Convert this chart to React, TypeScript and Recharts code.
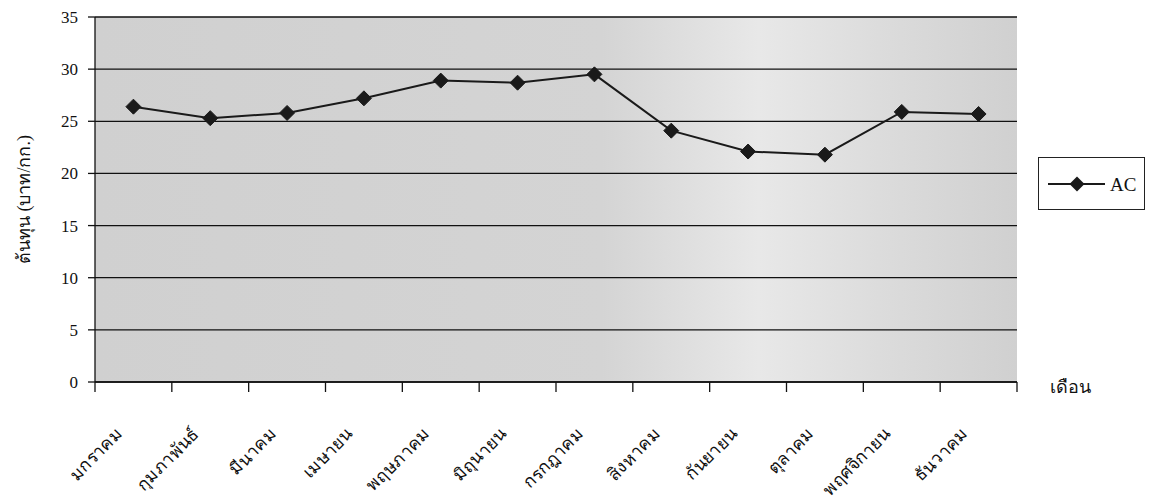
import React from 'react';
import { LineChart, Line, XAxis, YAxis, CartesianGrid, Label } from 'recharts';

const months = ['มกราคม', 'กุมภาพันธ์', 'มีนาคม', 'เมษายน', 'พฤษภาคม', 'มิถุนายน', 'กรกฎาคม', 'สิงหาคม', 'กันยายน', 'ตุลาคม', 'พฤศจิกายน', 'ธันวาคม'];
const acValues = [26.4, 25.3, 25.8, 27.2, 28.9, 28.7, 29.5, 24.1, 22.1, 21.8, 25.9, 25.7];
const yTicks = [0, 5, 10, 15, 20, 25, 30, 35];
const seriesName = 'AC';
const yTitle = 'ต้นทุน (บาท/กก.)';
const xTitle = 'เดือน';

const data = months.map((m, i) => ({ pos: i + 0.5, month: m, AC: acValues[i] }));
const boundaryTicks = months.map((_, i) => i).concat([months.length]);
const centerTicks = months.map((_, i) => i + 0.5);

const FONT = '"Liberation Serif", "Noto Sans", serif';

const Diamond = (props: any) => {
  const { cx, cy } = props;
  if (cx == null || cy == null) return null;
  const r = 7.5;
  return <polygon points={`${cx},${cy - r} ${cx + r},${cy} ${cx},${cy + r} ${cx - r},${cy}`} fill="#1a1a1a" stroke="#1a1a1a" />;
};

const MonthTick = (props: any) => {
  const { x, y, payload } = props;
  const idx = Math.floor(payload.value);
  return (
    <text x={0} y={0} transform={`translate(${x - 10}, ${y + 44}) rotate(-45)`} textAnchor="end" fontSize={17.5} fill="#111" fontFamily={FONT}>
      {months[idx]}
    </text>
  );
};

const EmptyTick = () => <g />;

export default function App() {
  return (
    <div style={{ position: 'absolute', left: 0, top: 0, width: 1153, height: 501, background: '#fff' }}>
      <LineChart width={1153} height={501} data={data} margin={{ top: 17, right: 136, bottom: 0, left: 0 }}>
        <defs>
          <linearGradient id="bgGrad" x1="0" y1="0" x2="1" y2="0">
            <stop offset="0" stopColor="#d0d0d0" />
            <stop offset="0.55" stopColor="#d4d4d4" />
            <stop offset="0.72" stopColor="#e8e8e8" />
            <stop offset="0.85" stopColor="#dcdcdc" />
            <stop offset="1" stopColor="#d0d0d0" />
          </linearGradient>
        </defs>
        <CartesianGrid vertical={false} stroke="#111" strokeWidth={1.3} fill="url(#bgGrad)" fillOpacity={1} />
        <XAxis
          xAxisId="b"
          type="number"
          dataKey="pos"
          domain={[0, months.length]}
          ticks={boundaryTicks}
          tick={<EmptyTick />}
          tickSize={10}
          height={1}
          stroke="#111"
          strokeWidth={1.3}
          interval={0}
        />
        <XAxis
          xAxisId="c"
          type="number"
          dataKey="pos"
          domain={[0, months.length]}
          ticks={centerTicks}
          tick={<MonthTick />}
          axisLine={false}
          tickLine={false}
          height={118}
          interval={0}
        />
        <YAxis
          domain={[0, 35]}
          ticks={yTicks}
          width={95}
          tickSize={7}
          tickMargin={10}
          stroke="#111"
          strokeWidth={1.3}
          tick={{ fontSize: 17, fill: '#111', fontFamily: FONT }}
          interval={0}
        >
          <Label value={yTitle} angle={-90} position="insideLeft" offset={24} style={{ fontSize: 18, fill: '#111', fontFamily: FONT, textAnchor: 'middle' }} />
        </YAxis>
        <Line xAxisId="b" dataKey="AC" stroke="#1a1a1a" strokeWidth={2} dot={<Diamond />} isAnimationActive={false} name={seriesName} />
      </LineChart>
      <div style={{ position: 'absolute', left: 1050, top: 372, fontSize: 18, fontFamily: FONT, color: '#111' }}>{xTitle}</div>
      <div style={{ position: 'absolute', left: 1038, top: 157, width: 107, height: 53, border: '1.5px solid #222', boxSizing: 'border-box', background: '#fff' }}>
        <svg width={107} height={53} style={{ position: 'absolute', left: 0, top: 0 }}>
          <line x1={9} y1={26} x2={66} y2={26} stroke="#1a1a1a" strokeWidth={2} />
          <polygon points="38,18.5 45.5,26 38,33.5 30.5,26" fill="#1a1a1a" />
          <text x={71} y={33} fontSize={19} fontFamily={FONT} fill="#111">{seriesName}</text>
        </svg>
      </div>
    </div>
  );
}
